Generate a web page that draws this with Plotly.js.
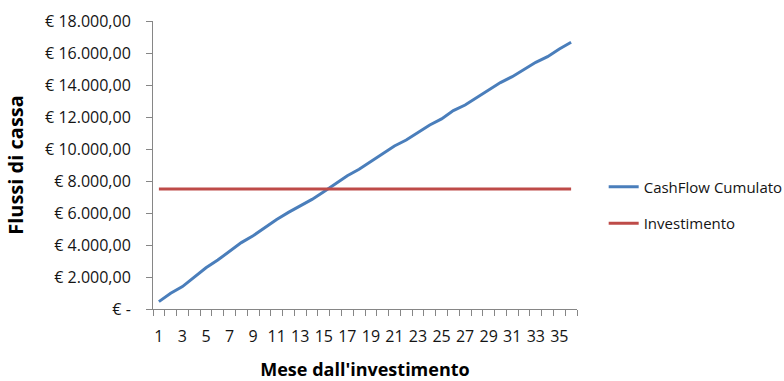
<!DOCTYPE html>
<html>
<head>
<meta charset="utf-8">
<script src="https://cdn.plot.ly/plotly-3.0.1.min.js"></script>
<style>
  html, body { margin: 0; padding: 0; background: #ffffff; }
  #chart { width: 784px; height: 381px; }
</style>
</head>
<body>
<div id="chart"></div>
<script>
// Months since the investment (1..36)
const months = [1,2,3,4,5,6,7,8,9,10,11,12,13,14,15,16,17,18,
                19,20,21,22,23,24,25,26,27,28,29,30,31,32,33,34,35,36];

// Cumulative cash flow per month (EUR)
const cashFlowCumulato = [460,980,1400,2020,2580,3060,3580,4150,4580,5100,5600,6040,
                          6440,6850,7330,7850,8330,8730,9210,9730,10190,10560,11040,11500,
                          11880,12400,12750,13210,13690,14150,14520,14980,15420,15770,16250,16670];

// Initial investment (EUR), constant across the period
const investimento = months.map(() => 7500);

// Y axis ticks
const yTickVals = [0,2000,4000,6000,8000,10000,12000,14000,16000,18000];
const yTickText = ['€ -','€ 2.000,00','€ 4.000,00','€ 6.000,00','€ 8.000,00',
                   '€ 10.000,00','€ 12.000,00','€ 14.000,00','€ 16.000,00','€ 18.000,00'];

// X axis labels (every other month)
const xTickVals = [1,3,5,7,9,11,13,15,17,19,21,23,25,27,29,31,33,35];
const xTickText = xTickVals.map(String);

const FONT = 'Open Sans, Liberation Sans, sans-serif';
const AXIS_GREY = '#868686';
const TEXT = '#141414';

const traces = [
  {
    x: months, y: cashFlowCumulato, name: 'CashFlow Cumulato',
    type: 'scatter', mode: 'lines', legendgroup: 'a',
    line: { color: '#4A7EBB', width: 3 }
  },
  {
    x: months, y: investimento, name: 'Investimento',
    type: 'scatter', mode: 'lines', legendgroup: 'b',
    line: { color: '#BE4B48', width: 3 }
  }
];

const layout = {
  width: 784, height: 381,
  margin: { l: 153, r: 207, t: 21, b: 72, pad: 0 },
  paper_bgcolor: '#ffffff', plot_bgcolor: '#ffffff',
  font: { family: FONT, size: 16, color: TEXT },
  showlegend: true,
  legend: {
    xref: 'container', yref: 'container',
    x: 0.77, xanchor: 'left', y: 0.462, yanchor: 'middle',
    font: { family: FONT, size: 15, color: TEXT },
    tracegroupgap: 14, bgcolor: 'rgba(0,0,0,0)'
  },
  xaxis: {
    range: [0.5, 36.5], fixedrange: true, automargin: false,
    showgrid: false, zeroline: false,
    showline: true, linecolor: AXIS_GREY, linewidth: 1,
    tickmode: 'array', tickvals: xTickVals, ticktext: xTickText,
    ticks: '', ticklabelstandoff: 13,
    tickfont: { family: FONT, size: 16, color: TEXT },
    minor: { tickmode: 'linear', tick0: 0.5, dtick: 1, ticks: 'outside',
             ticklen: 6, tickcolor: AXIS_GREY, tickwidth: 1, showgrid: false },
    title: { text: "Mese dall'investimento", standoff: 29,
             font: { family: FONT, size: 18, color: '#000000', weight: 'bold' } }
  },
  yaxis: {
    range: [0, 18000], fixedrange: true, automargin: false,
    showgrid: false, zeroline: false,
    showline: true, linecolor: AXIS_GREY, linewidth: 1,
    tickmode: 'array', tickvals: yTickVals, ticktext: yTickText,
    ticks: 'outside', ticklen: 6, tickcolor: AXIS_GREY, tickwidth: 1,
    ticklabelstandoff: 12,
    tickfont: { family: FONT, size: 16, color: TEXT },
    title: { text: 'Flussi di cassa', standoff: 16,
             font: { family: FONT, size: 20, color: '#000000', weight: 'bold' } }
  }
};

Plotly.newPlot('chart', traces, layout, { staticPlot: true, displayModeBar: false });
</script>
</body>
</html>
